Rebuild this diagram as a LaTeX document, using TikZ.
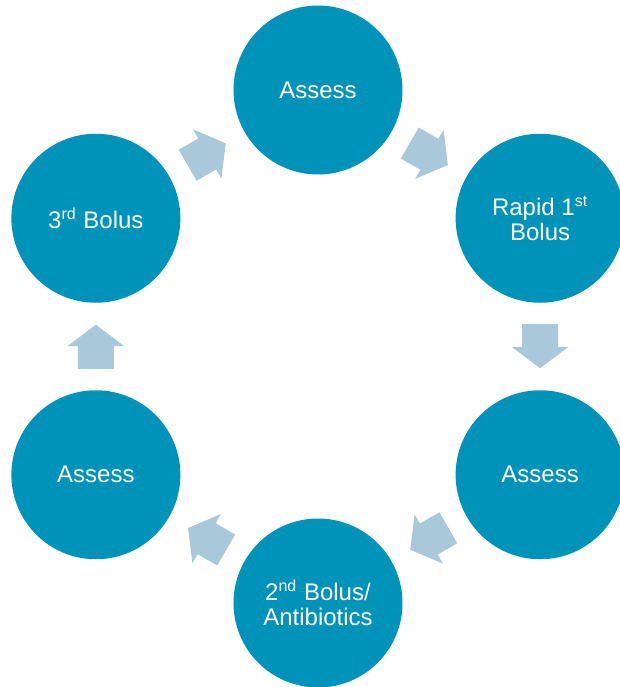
\documentclass[tikz,border=0pt]{standalone}
\usepackage{fontspec}
\setmainfont{Liberation Sans}
\usetikzlibrary{calc,shapes.arrows}
\definecolor{StageClr}{HTML}{0093B9}
\definecolor{FlowClr}{HTML}{A9C8DA}

\begin{document}
\begin{tikzpicture}[x=.5pt,y=.5pt,
  stage/.style={circle,fill=StageClr,text=white,minimum size=84.5pt,inner sep=0pt,
    align=center,font=\fontsize{12}{12.5}\selectfont},
  flow/.style={single arrow,fill=FlowClr,draw=none,minimum height=22pt,minimum width=28pt,
    inner xsep=0pt,inner ysep=8.75pt,single arrow head extend=5.25pt,
    single arrow tip angle=106,rotate=#1,xshift=-3.5pt}]
\useasboundingbox (-318,-340.5) rectangle (302,346.5);
\clip (-318,-340.5) rectangle (302,346.5);

\node[stage] (assessA) at (90:256.5) {Assess};
\node[stage] (rapid) at (30:256.5) {Rapid 1\textsuperscript{st}\\Bolus};
\node[stage] (assessB) at (-30:256.5) {Assess};
\node[stage] (second) at (-90:256.5) {2\textsuperscript{nd} Bolus/\\Antibiotics};
\node[stage] (assessC) at (210:256.5) {Assess};
\node[stage] (third) at (150:256.5) {3\textsuperscript{rd} Bolus};

\node[flow=-30] (fa) at ($(assessA)!.5!(rapid)$) {};
\node[flow=-90] (fb) at ($(rapid)!.5!(assessB)$) {};
\node[flow=-150] (fc) at ($(assessB)!.5!(second)$) {};
\node[flow=150] (fd) at ($(second)!.5!(assessC)$) {};
\node[flow=90] (fe) at ($(assessC)!.5!(third)$) {};
\node[flow=30] (ff) at ($(third)!.5!(assessA)$) {};

\end{tikzpicture}
\end{document}
